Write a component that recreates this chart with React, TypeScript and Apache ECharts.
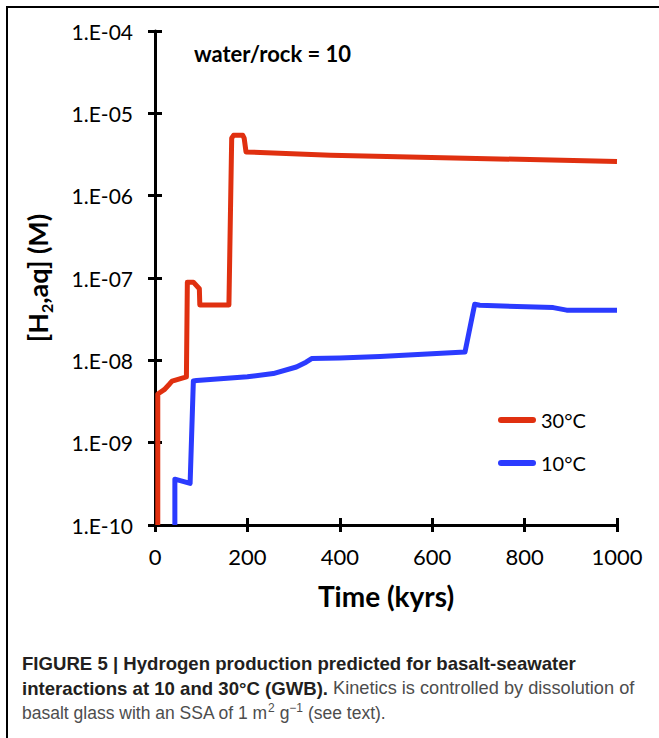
import React, { useEffect, useRef } from 'react';
import * as echarts from 'echarts';

// 30 °C series (time in kyrs, [H2,aq] in M)
const TIME_30 = [6, 6, 20, 32, 37, 68, 70, 83, 96, 97, 160, 166, 170, 190, 193, 197, 380, 1000];
const H2_30 = [1e-10, 3.9e-9, 4.4e-9, 5.2e-9, 5.6e-9, 6.3e-9, 8.9e-8, 8.9e-8, 7.4e-8, 4.7e-8, 4.7e-8, 5.0e-6, 5.4e-6, 5.4e-6, 5.0e-6, 3.4e-6, 3.1e-6, 2.6e-6];

// 10 °C series
const TIME_10 = [43, 43, 76, 83, 90, 200, 256, 306, 327, 339, 400, 487, 671, 692, 703, 862, 891, 1000];
const H2_10 = [1e-10, 3.6e-10, 3.2e-10, 5.6e-9, 5.7e-9, 6.3e-9, 6.9e-9, 8.3e-9, 9.5e-9, 1.05e-8, 1.07e-8, 1.11e-8, 1.26e-8, 4.8e-8, 4.66e-8, 4.37e-8, 4.07e-8, 4.07e-8];

const SERIES_NAMES = ['30°C', '10°C'];
const SERIES_COLORS = ['#E03010', '#2B3BFF'];

const X_MIN = 0;
const X_MAX = 1000;
const X_INTERVAL = 200;
const Y_MIN = 1e-10;
const Y_MAX = 1e-4;

const TITLE_TEXT = 'water/rock = 10';
const X_NAME = 'Time (kyrs)';

const FONT = 'Lato, "Open Sans", sans-serif';
const CAP_FONT = '"Liberation Sans", Arial, sans-serif';

const zip = (xs: number[], ys: number[]) => xs.map((x, i) => [x, ys[i]]);

const yFormatter = (v: number) => {
  const e = Math.round(Math.log10(v));
  return '1.E' + (e < 0 ? '-' : '+') + String(Math.abs(e)).padStart(2, '0');
};

export default function App() {
  const ref = useRef<HTMLDivElement>(null);
  useEffect(() => {
    if (!ref.current) return;
    const chart = echarts.init(ref.current, null, { renderer: 'svg' });
    const legendIcon = 'path://M3,0H35A3,3,0,0,1,35,6H3A3,3,0,0,1,3,0Z';
    const tickStyle = { color: '#000', width: 3 };
    const option: any = {
      animation: false,
      backgroundColor: '#ffffff',
      grid: { left: 155, right: 42, top: 31, bottom: 213, outerBoundsMode: 'none' },
      xAxis: [
        {
          type: 'value',
          min: X_MIN,
          max: X_MAX,
          interval: X_INTERVAL,
          position: 'bottom',
          name: X_NAME,
          nameLocation: 'middle',
          nameGap: 57,
          nameTextStyle: { fontFamily: FONT, fontSize: 28, fontWeight: 'bold', color: '#000' },
          axisLine: { show: true, onZero: false, lineStyle: { color: '#000', width: 3 } },
          axisTick: { show: false },
          axisLabel: { fontFamily: FONT, fontSize: 22, color: '#000', margin: 20, formatter: (v: number) => String(v) },
          splitLine: { show: false },
        },
        {
          type: 'value',
          min: X_MIN,
          max: X_MAX,
          interval: X_INTERVAL,
          position: 'bottom',
          offset: -7,
          axisLine: { show: false, onZero: false },
          axisTick: { show: true, inside: false, length: 14, lineStyle: tickStyle },
          axisLabel: { show: false },
          splitLine: { show: false },
        },
      ],
      yAxis: [
        {
          type: 'log',
          logBase: 10,
          min: Y_MIN,
          max: Y_MAX,
          position: 'left',
          name: '[H{sub|2},aq] (M)',
          nameLocation: 'middle',
          nameRotate: 90,
          nameGap: 101,
          nameTextStyle: {
            fontFamily: FONT,
            fontSize: 27,
            fontWeight: 'bold',
            color: '#000',
            lineHeight: 34,
            rich: {
              sub: { fontFamily: FONT, fontSize: 16, fontWeight: 'bold', color: '#000', verticalAlign: 'bottom', lineHeight: 34 },
            },
          },
          axisLine: { show: true, onZero: false, lineStyle: { color: '#000', width: 3 } },
          axisTick: { show: false },
          axisLabel: { fontFamily: FONT, fontSize: 21, color: '#000', margin: 22, formatter: yFormatter },
          splitLine: { show: false },
          minorTick: { show: false },
        },
        {
          type: 'log',
          logBase: 10,
          min: Y_MIN,
          max: Y_MAX,
          position: 'left',
          offset: -7,
          axisLine: { show: false, onZero: false },
          axisTick: { show: true, inside: false, length: 14, lineStyle: tickStyle },
          axisLabel: { show: false },
          splitLine: { show: false },
        },
      ],
      legend: {
        orient: 'vertical',
        left: 498,
        top: 410,
        padding: 0,
        itemWidth: 38,
        itemHeight: 6,
        itemGap: 23,
        icon: legendIcon,
        textStyle: { fontFamily: FONT, fontSize: 20, color: '#000' },
        data: SERIES_NAMES,
      },
      series: [
        {
          name: SERIES_NAMES[0],
          type: 'line',
          data: zip(TIME_30, H2_30),
          showSymbol: false,
          symbol: 'none',
          color: SERIES_COLORS[0],
          lineStyle: { color: SERIES_COLORS[0], width: 5, join: 'round' },
          z: 3,
        },
        {
          name: SERIES_NAMES[1],
          type: 'line',
          data: zip(TIME_10, H2_10),
          showSymbol: false,
          symbol: 'none',
          color: SERIES_COLORS[1],
          lineStyle: { color: SERIES_COLORS[1], width: 5, join: 'round' },
          z: 2,
        },
      ],
      graphic: [
        { type: 'line', shape: { x1: 7, y1: 7, x2: 659, y2: 7 }, style: { stroke: '#000', lineWidth: 2 } },
        { type: 'line', shape: { x1: 7, y1: 6, x2: 7, y2: 738 }, style: { stroke: '#000', lineWidth: 2 } },
        {
          type: 'text',
          x: 194,
          y: 53,
          style: { text: TITLE_TEXT, fontFamily: FONT, fontSize: 22, fontWeight: 'bold', fill: '#000', verticalAlign: 'middle' },
        },
        {
          type: 'text',
          x: 22,
          y: 663,
          style: {
            text: 'FIGURE 5 | Hydrogen production predicted for basalt-seawater',
            fontFamily: CAP_FONT,
            fontSize: 18.6,
            fontWeight: 'bold',
            fill: '#231f20',
            verticalAlign: 'middle',
          },
        },
        {
          type: 'text',
          x: 22,
          y: 688,
          style: {
            text: '{b|interactions at 10 and 30°C (GWB).}{r| Kinetics is controlled by dissolution of}',
            verticalAlign: 'middle',
            rich: {
              b: { fontFamily: CAP_FONT, fontSize: 18.6, fontWeight: 'bold', fill: '#231f20' },
              r: { fontFamily: CAP_FONT, fontSize: 18.2, fill: '#4d4d4d' },
            },
          },
        },
        {
          type: 'text',
          x: 22,
          y: 713,
          style: {
            text: '{r|basalt glass with an SSA of 1 m}{sup|2}{r| g}{sup|−1}{r| (see text).}',
            verticalAlign: 'middle',
            rich: {
              r: { fontFamily: CAP_FONT, fontSize: 17.5, fill: '#4d4d4d', lineHeight: 22 },
              sup: { fontFamily: CAP_FONT, fontSize: 12, fill: '#4d4d4d', verticalAlign: 'top', lineHeight: 22 },
            },
          },
        },
      ],
    };
    chart.setOption(option);
    return () => chart.dispose();
  }, []);
  return (
    <div
      ref={ref}
      style={{ position: 'absolute', left: 0, top: 0, width: 659, height: 738, background: '#fff' }}
    />
  );
}
